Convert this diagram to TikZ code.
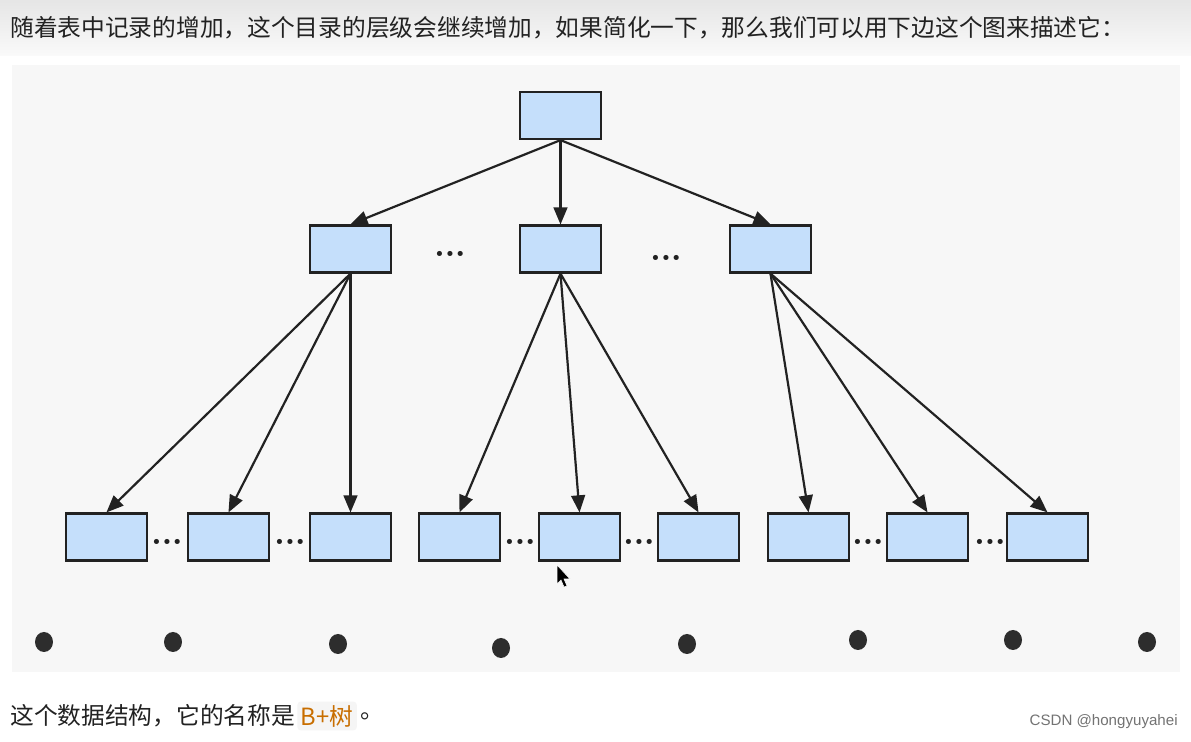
\documentclass[tikz,border=0pt]{standalone}
\usepackage{fontspec}
\newfontfamily\cjk{Noto Sans CJK SC}
\newfontfamily\dejavu{DejaVu Sans}
\newfontfamily\arialish{Liberation Sans}
\usetikzlibrary{shapes,arrows}
\definecolor{myblue}{RGB}{197, 223, 251}
\definecolor{ink}{RGB}{34, 34, 34}
\definecolor{treeorange}{RGB}{200, 110, 0}

\begin{document}
\begin{tikzpicture}[x=0.02cm,y=-0.02cm]

\tikzstyle{blue-b} = [draw=ink, line width=1.3pt, fill=myblue,
minimum width=1.62cm, minimum height=0.94cm, inner sep=0]
\tikzstyle{link} = [-triangle 45, draw=ink, line width=1.25pt]
\tikzstyle{more} = [font=\dejavu\fontsize{10pt}{10pt}\selectfont, text=ink, inner sep=0]
\tikzstyle{blob} = [fill=ink!95]
\tikzstyle{line-text} = [anchor=west, inner sep=0, text=ink,
font=\cjk\fontsize{13.5pt}{16pt}\selectfont]

\useasboundingbox (0,0) rectangle (1191,742);
\fill[white] (0,0) rectangle (1191,742);
\shade[top color=black!10, bottom color=black!2] (0,0) rectangle (1191,56);
\fill[black!3] (12,65) rectangle (1180,672);

% text above and below
\node[line-text] (intro) at (10,28) {随着表中记录的增加，这个目录的层级会继续增加，如果简化一下，那么我们可以用下边这个图来描述它：};
\node[line-text] (outro) at (10,716) {这个数据结构，它的名称是};
\node[line-text, text=treeorange, fill=black!4, rounded corners=2pt, inner xsep=2pt, inner ysep=2pt] (name) at (297,716) {B+树};
\node[line-text] (stop) at (360,716) {。};
\node[anchor=east, inner sep=0, text=black!55, font=\arialish\fontsize{8.6pt}{10pt}\selectfont] (mark) at (1178,722) {CSDN @hongyuyahei};

% root
\node [blue-b] (root) at (560.5,115.5) {};

% middle level
\node [blue-b] (midL) at (350.5,249) {};
\node [blue-b] (midC) at (560.5,249) {};
\node [blue-b] (midR) at (770.5,249) {};
\node [more] (gapA) at (450,256) {•••};
\node [more] (gapB) at (666,260) {•••};

% leaves
\node [blue-b] (leaf1) at (106.5,537) {};
\node [blue-b] (leaf2) at (228.5,537) {};
\node [blue-b] (leaf3) at (350.5,537) {};
\node [blue-b] (leaf4) at (459.5,537) {};
\node [blue-b] (leaf5) at (579.5,537) {};
\node [blue-b] (leaf6) at (698.5,537) {};
\node [blue-b] (leaf7) at (808.5,537) {};
\node [blue-b] (leaf8) at (927.5,537) {};
\node [blue-b] (leaf9) at (1047.5,537) {};

\node [more] (gap1) at (167,544) {•••};
\node [more] (gap2) at (290,544) {•••};
\node [more] (gap3) at (520,544) {•••};
\node [more] (gap4) at (639,544) {•••};
\node [more] (gap5) at (868,544) {•••};
\node [more] (gap6) at (990,544) {•••};

% arrows
\draw[link] (root.south) -- (midL.north);
\draw[link] (root.south) -- (midC.north);
\draw[link] (root.south) -- (midR.north);

\draw[link] (midL.south) -- (leaf1.north);
\draw[link] (midL.south) -- (leaf2.north);
\draw[link] (midL.south) -- (leaf3.north);
\draw[link] (midC.south) -- (leaf4.north);
\draw[link] (midC.south) -- (leaf5.north);
\draw[link] (midC.south) -- (leaf6.north);
\draw[link] (midR.south) -- (leaf7.north);
\draw[link] (midR.south) -- (leaf8.north);
\draw[link] (midR.south) -- (leaf9.north);

% black dots at the bottom
\fill[blob] (44,642) ellipse [x radius=0.18cm, y radius=0.2cm];
\fill[blob] (173,642) ellipse [x radius=0.18cm, y radius=0.2cm];
\fill[blob] (338,644) ellipse [x radius=0.18cm, y radius=0.2cm];
\fill[blob] (501,648) ellipse [x radius=0.18cm, y radius=0.2cm];
\fill[blob] (687,644) ellipse [x radius=0.18cm, y radius=0.2cm];
\fill[blob] (858,640) ellipse [x radius=0.18cm, y radius=0.2cm];
\fill[blob] (1013,640) ellipse [x radius=0.18cm, y radius=0.2cm];
\fill[blob] (1147,642) ellipse [x radius=0.18cm, y radius=0.2cm];

% mouse pointer
\filldraw[fill=black, draw=white, line width=0.3pt]
(557,565) -- (557,584) -- (561,580) -- (564,587) -- (567,586) -- (564,579) -- (570,579) -- cycle;

\end{tikzpicture}
\end{document}
